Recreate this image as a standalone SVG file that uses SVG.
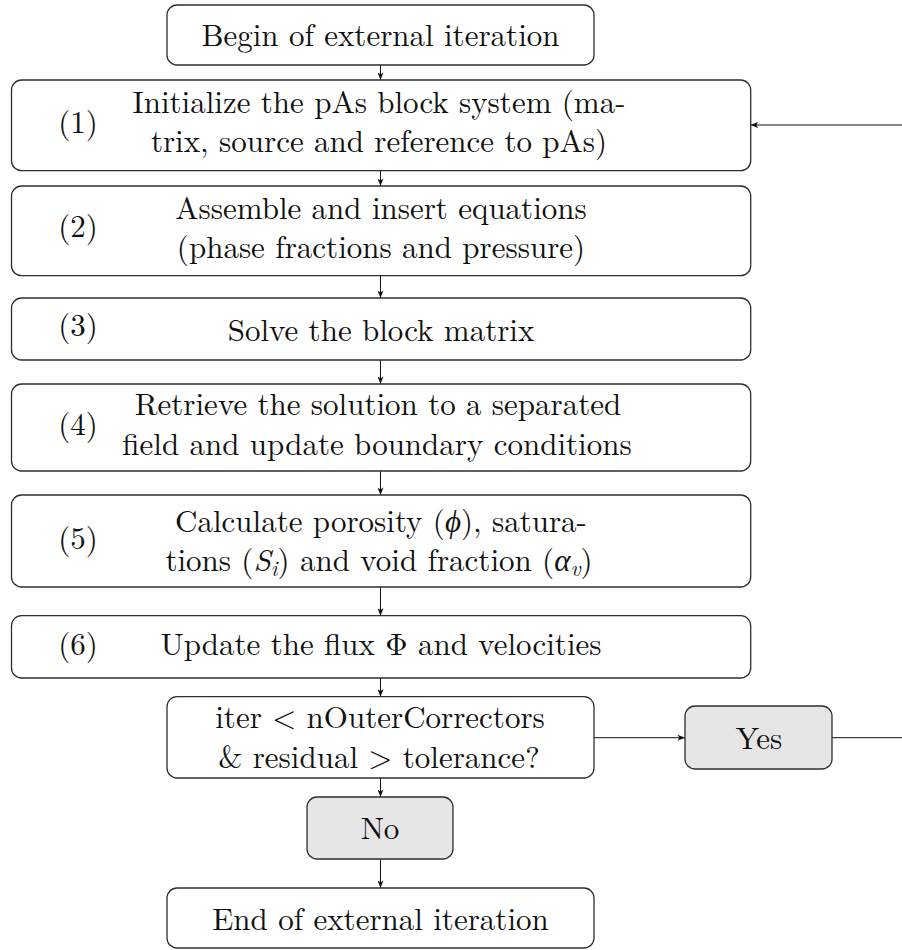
<svg xmlns="http://www.w3.org/2000/svg" width="902" height="950" viewBox="0 0 902 950">
<style>
.box{fill:#ffffff;stroke:#2e2e2e;stroke-width:1.3}
.gray{fill:#e6e6e6;stroke:#2e2e2e;stroke-width:1.3}
.t{font-size:31px;fill:#111;text-anchor:middle}
.m{font-style:italic}
.s{font-size:22px}
.c{fill:none;stroke:#111;stroke-width:1}
</style>
<defs>
<marker id="ah" viewBox="0 0 10 8" markerWidth="8" markerHeight="6" refX="10" refY="4" orient="auto" markerUnits="userSpaceOnUse">
<path d="M0,0 L10,4 L0,8 L2.5,4 z" fill="#111"/>
</marker>
</defs>
<rect width="902" height="950" fill="#ffffff"/>

<g id="connectors">
<line class="c" x1="380.5" y1="65" x2="380.5" y2="80" marker-end="url(#ah)"/>
<line class="c" x1="380.5" y1="170.7" x2="380.5" y2="186" marker-end="url(#ah)"/>
<line class="c" x1="380.5" y1="275.7" x2="380.5" y2="298" marker-end="url(#ah)"/>
<line class="c" x1="380.5" y1="360" x2="380.5" y2="384" marker-end="url(#ah)"/>
<line class="c" x1="380.5" y1="471" x2="380.5" y2="495" marker-end="url(#ah)"/>
<line class="c" x1="380.5" y1="587" x2="380.5" y2="615.7" marker-end="url(#ah)"/>
<line class="c" x1="380.5" y1="678" x2="380.5" y2="696.7" marker-end="url(#ah)"/>
<line class="c" x1="380.5" y1="778" x2="380.5" y2="797" marker-end="url(#ah)"/>
<line class="c" x1="380.5" y1="859" x2="380.5" y2="888" marker-end="url(#ah)"/>
<line class="c" x1="594" y1="737.7" x2="685" y2="737.7" marker-end="url(#ah)"/>
<path class="c" d="M832,737.7 H910 V125 H750.7" marker-end="url(#ah)"/>
</g>

<g font-family="Latin Modern Roman, Liberation Serif, serif">
<g id="begin">
<rect class="box" x="167" y="5" width="427" height="60" rx="10"/>
<text class="t" x="380.5" y="46">Begin of external iteration</text>
</g>

<g id="step1">
<rect class="box" x="11.5" y="80" width="739.2" height="90.7" rx="10"/>
<text class="t" x="78" y="133">(1)</text>
<text class="t" x="379" y="113">Initialize the pAs block system (ma-</text>
<text class="t" x="379" y="152">trix, source and reference to pAs)</text>
</g>

<g id="step2">
<rect class="box" x="11.5" y="186" width="739.2" height="89.7" rx="10"/>
<text class="t" x="78" y="237">(2)</text>
<text class="t" x="381" y="219.3">Assemble and insert equations</text>
<text class="t" x="381" y="258.3">(phase fractions and pressure)</text>
</g>

<g id="step3">
<rect class="box" x="11.5" y="298" width="739.2" height="62" rx="10"/>
<text class="t" x="78" y="336">(3)</text>
<text class="t" x="381" y="340.7">Solve the block matrix</text>
</g>

<g id="step4">
<rect class="box" x="11.5" y="384" width="739.2" height="87" rx="10"/>
<text class="t" x="78" y="434.5">(4)</text>
<text class="t" x="378" y="415">Retrieve the solution to a separated</text>
<text class="t" x="377" y="455">field and update boundary conditions</text>
</g>

<g id="step5">
<rect class="box" x="11.5" y="495" width="739.2" height="92" rx="10"/>
<text class="t" x="78" y="549">(5)</text>
<text class="t" x="381" y="532">Calculate porosity (<tspan class="m">ϕ</tspan>), satura-</text>
<text class="t" x="379" y="571">tions (<tspan class="m">S</tspan><tspan class="m s" dy="5">i</tspan><tspan dy="-5">) and void fraction (</tspan><tspan class="m">α</tspan><tspan class="m s" dy="5">v</tspan><tspan dy="-5">)</tspan></text>
</g>

<g id="step6">
<rect class="box" x="11.5" y="615.7" width="739.2" height="62.3" rx="10"/>
<text class="t" x="78" y="655">(6)</text>
<text class="t" x="381" y="655">Update the flux Φ and velocities</text>
</g>

<g id="decision">
<rect class="box" x="167" y="696.7" width="427" height="81.3" rx="10"/>
<text class="t" x="380" y="728">iter &lt; nOuterCorrectors</text>
<text class="t" x="379" y="768">&amp; residual &gt; tolerance?</text>
</g>

<g id="yes">
<rect class="gray" x="685" y="706" width="147" height="63" rx="10"/>
<text class="t" x="759" y="749.3">Yes</text>
</g>

<g id="no">
<rect class="gray" x="307" y="797" width="146" height="62" rx="10"/>
<text class="t" x="380" y="839">No</text>
</g>

<g id="end">
<rect class="box" x="167" y="888" width="427" height="60" rx="10"/>
<text class="t" x="380.5" y="930">End of external iteration</text>
</g>
</g>
</svg>
